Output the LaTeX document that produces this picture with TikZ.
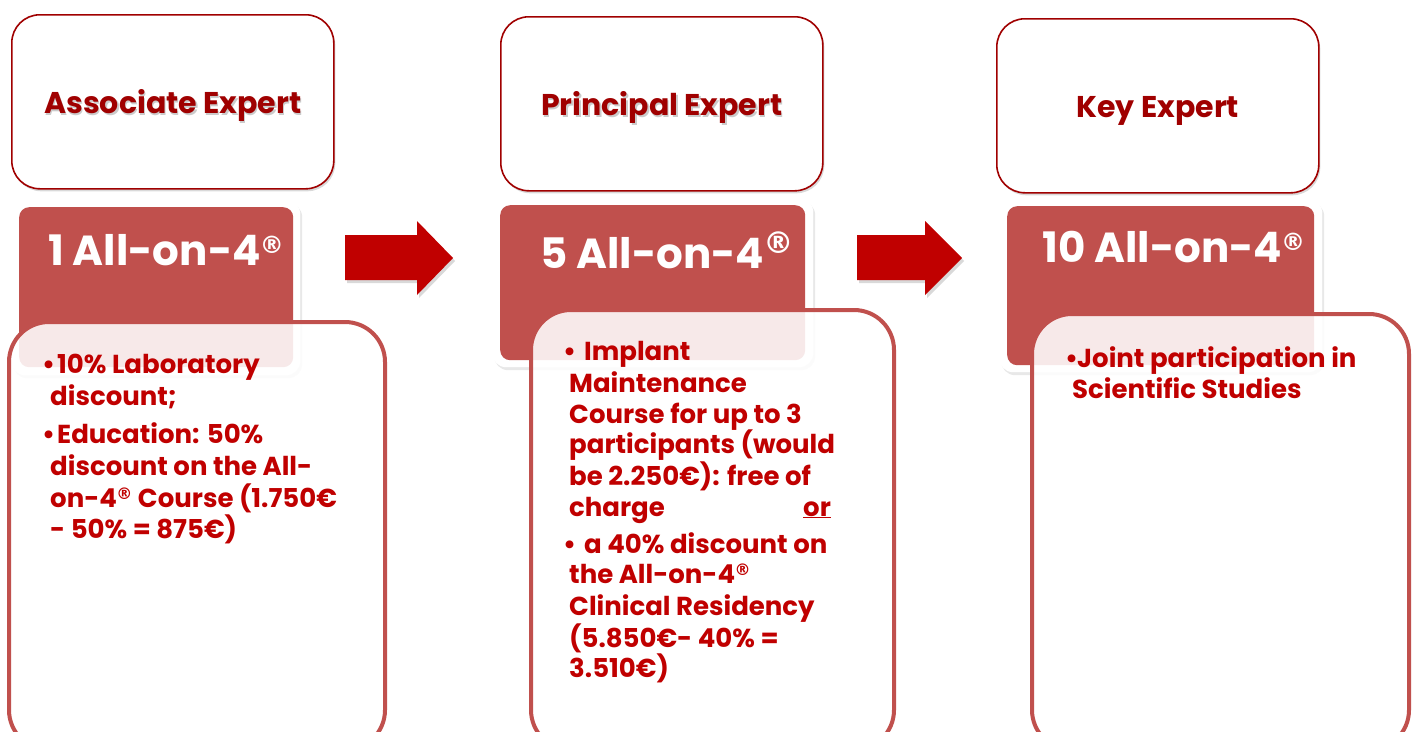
\documentclass[tikz,border=0pt]{standalone}
\usepackage{fontspec}
\setmainfont{Poppins}
\newfontfamily\regfont{DejaVu Sans}
\usetikzlibrary{shadows}
\definecolor{dred}{HTML}{A00000}
\definecolor{bred}{HTML}{C00000}
\definecolor{accent}{HTML}{C0504D}
\newcommand\mybodyfont{\fontsize{26}{32}\selectfont\bfseries}
\newcommand\mytitlefont{\fontsize{30}{36}\selectfont\bfseries}
\newcommand\mylevelfont{\fontsize{42}{48}\selectfont\bfseries}
\newcommand\myreg{\kern-1pt\raisebox{12pt}{\regfont\fontsize{24}{24}\selectfont ®}}
\newcommand\mybigreg{\kern-1pt\raisebox{15pt}{\regfont\fontsize{30}{30}\selectfont ®}}
\newcommand\mysreg{\kern-0.5pt\raisebox{8pt}{\regfont\fontsize{16}{16}\selectfont ®}}
\begin{document}
\begin{tikzpicture}[x=1pt,y=-1pt,
  topbox/.style={draw=dred, line width=1.6pt, fill=white, rounded corners=28pt,
    minimum width=322pt, minimum height=174pt, inner sep=0pt,
    drop shadow={opacity=0.3, shadow xshift=1.5pt, shadow yshift=-2.5pt}},
  toptxt/.style={text=dred, font=\mytitlefont, inner sep=0pt, text height=23pt, text depth=0pt},
  topshadow/.style={toptxt, text=black!40, opacity=0.5},
  frame/.style={fill=white, rounded corners=14pt, inner sep=0pt,
    drop shadow={opacity=0.18, shadow xshift=2pt, shadow yshift=-3pt}},
  levelbox/.style={fill=accent, rounded corners=10pt, inner sep=0pt},
  leveltxt/.style={anchor=base west, text=white, font=\mylevelfont, inner sep=0pt},
  infobox/.style={draw=accent, line width=4pt, fill=white, fill opacity=0.88,
    rounded corners=40pt, inner sep=0pt},
  bodytxt/.style={anchor=base west, inner sep=0pt, text=bred, font=\mybodyfont},
  bigarrow/.style={fill=bred, drop shadow={opacity=0.3, shadow xshift=2pt, shadow yshift=-3pt}}
]
\path[use as bounding box] (0,0) rectangle (1413,731);
\clip (0,0) rectangle (1413,731);

% ---------- top boxes ----------
\node[topbox, anchor=north west] (t1) at (11,14) {};
\node[topbox, anchor=north west] (t2) at (500,16) {};
\node[topbox, anchor=north west] (t3) at (996,18) {};
\node[topshadow] (t1s) at ([shift={(1.5,2.5)}]t1.center) {Associate Expert};
\node[toptxt] (t1l) at (t1.center) {Associate Expert};
\node[topshadow] (t2s) at ([shift={(1.5,2.5)}]t2.center) {Principal Expert};
\node[toptxt] (t2l) at (t2.center) {Principal Expert};
\node[toptxt] (t3l) at (t3.center) {Key Expert};

% ---------- level boxes ----------
\node[frame, minimum width=289pt, minimum height=175pt, anchor=north west] (f1) at (11,200) {};
\node[levelbox, minimum width=274pt, minimum height=160pt, anchor=north west] (l1) at (19,207) {};
\node[frame, minimum width=321pt, minimum height=169pt, anchor=north west] (f2) at (492,198) {};
\node[levelbox, minimum width=305pt, minimum height=155pt, anchor=north west] (l2) at (500,205) {};
\node[frame, minimum width=323pt, minimum height=173pt, anchor=north west] (f3) at (999,199) {};
\node[levelbox, minimum width=307pt, minimum height=159pt, anchor=north west] (l3) at (1007,206) {};
\node[leveltxt] (l1t) at (48,265) {1 All-on-4\myreg};
\node[leveltxt] (l2t) at (540,268) {5 All-on-4\mybigreg};
\node[leveltxt] (l3t) at (1042,262) {10 All-on-4\myreg};

% ---------- arrows ----------
\fill[bigarrow] (345,235) -- (417,235) -- (417,221) -- (453,258) -- (417,295) -- (417,280) -- (345,280) -- cycle;
\fill[bigarrow] (857,235) -- (925,235) -- (925,221) -- (962,258) -- (925,295) -- (925,280) -- (857,280) -- cycle;

% ---------- info boxes ----------
\node[infobox, minimum width=376pt, minimum height=428pt, anchor=north west] (b1) at (7,320) {};
\node[infobox, minimum width=363pt, minimum height=440pt, anchor=north west] (b2) at (529,308) {};
\node[infobox, minimum width=377pt, minimum height=436pt, anchor=north west] (b3) at (1030,312) {};

% box 1 text
\node[bodytxt] (a1b) at (42,373) {•};
\node[bodytxt] (a1) at (57,373) {10\% Laboratory};
\node[bodytxt] (a2) at (50,405) {discount;};
\node[bodytxt] (a3b) at (42,443) {•};
\node[bodytxt] (a3) at (57,443) {Education: 50\%};
\node[bodytxt] (a4) at (50,475) {discount on the All-};
\node[bodytxt] (a5) at (50,507) {on-4\mysreg{} Course (1.750€};
\node[bodytxt] (a6) at (50,538) {- 50\% = 875€)};

% box 2 text
\node[bodytxt] (p1b) at (563,360) {•};
\node[bodytxt] (p1) at (584,360) {Implant};
\node[bodytxt] (p2) at (569,392) {Maintenance};
\node[bodytxt] (p3) at (569,423) {Course for up to 3};
\node[bodytxt] (p4) at (569,453) {participants (would};
\node[bodytxt] (p5) at (569,485) {be 2.250€): free of};
\node[bodytxt] (p6) at (569,516) {charge};
\node[bodytxt] (p6o) at (803,516) {\underline{or}};
\node[bodytxt] (p7b) at (563,553) {•};
\node[bodytxt] (p7) at (584,553) {a 40\% discount on};
\node[bodytxt] (p8) at (569,583) {the All-on-4\mysreg};
\node[bodytxt] (p9) at (569,615) {Clinical Residency};
\node[bodytxt] (p10) at (569,647) {(5.850€- 40\% =};
\node[bodytxt] (p11) at (569,677) {3.510€)};

% box 3 text
\node[bodytxt] (k1b) at (1065,367) {•};
\node[bodytxt] (k1) at (1077,367) {Joint participation in};
\node[bodytxt] (k2) at (1072,398) {Scientific Studies};
\end{tikzpicture}
\end{document}
